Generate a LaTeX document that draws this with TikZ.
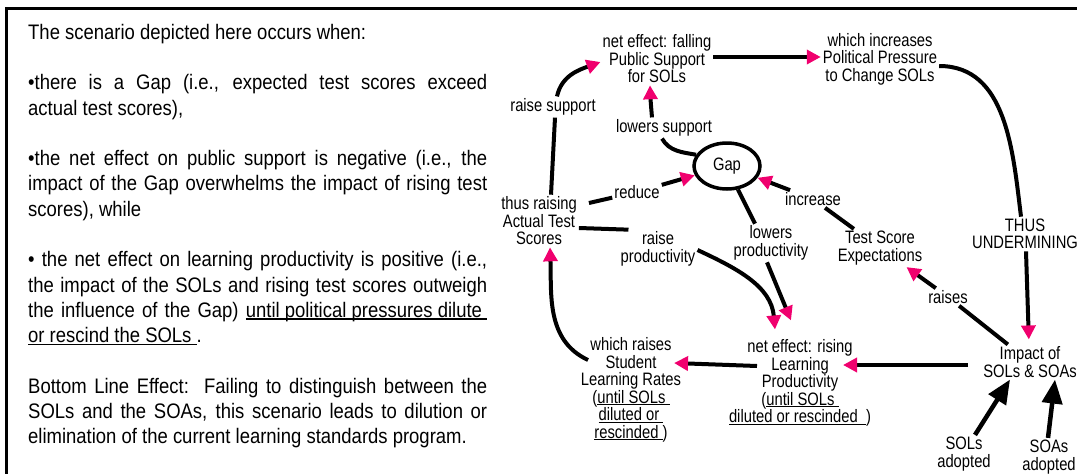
\documentclass[tikz,border=0pt]{standalone}
\usepackage{fontspec}
\setmainfont[FakeStretch=0.88]{Liberation Sans}
\newfontfamily\diagfont[FakeStretch=0.82]{Liberation Sans}
\usetikzlibrary{arrows.meta,shapes.geometric}

\definecolor{tippink}{RGB}{240,0,110}

% underline drawn close under the baseline
\newsavebox{\ulsave}
\newcommand{\ulbox}[1]{\sbox{\ulsave}{#1}\rlap{\rule[-0.11em]{\wd\ulsave}{0.06em}}\usebox{\ulsave}}
% one justified line and one ragged (last) line of the side text
\newcommand{\jline}[1]{\hbox to 459pt{#1}}
\newcommand{\eline}[1]{\hbox{#1}}
\newcommand{\parbreak}{\vskip 25.3pt}

\begin{document}
\begin{tikzpicture}[x=1pt, y=-1pt,
  var/.style={font=\diagfont\fontsize{18}{17.5}\selectfont, align=center, inner sep=2pt},
  lbl/.style={var},
  wire/.style={line width=4pt},
  arr/.style={wire, -{Triangle[length=14pt,width=14pt,color=tippink]}},
  bigarr/.style={line width=4.5pt, -{Triangle[length=24pt,width=20pt]}}]

\useasboundingbox (0,0) rectangle (1077,474);

% frame along the top and left
\draw[line width=3.5pt] (6.5,474) -- (6.5,8.5) -- (1077,8.5);

% explanatory text
\node[anchor=north west, inner sep=0pt, font=\fontsize{21}{25.3}\selectfont] (txt) at (28,23.7) {\vbox{%
\eline{The scenario depicted here occurs when:}
\parbreak
\jline{•there is a Gap (i.e., expected test scores exceed}
\eline{actual test scores),}
\parbreak
\jline{•the net effect on public support is negative (i.e., the}
\jline{impact of the Gap overwhelms the impact of rising test}
\eline{scores), while}
\parbreak
\jline{• the net effect on learning productivity is positive (i.e.,}
\jline{the impact of the SOLs and rising test scores outweigh}
\jline{the influence of the Gap) \ulbox{until political pressures dilute\ }}
\eline{\ulbox{or rescind the SOLs\ }.}
\parbreak
\jline{Bottom Line Effect:\ \ Failing to distinguish between the}
\jline{SOLs and the SOAs, this scenario leads to dilution or}
\eline{elimination of the current learning standards program.}}};

% variables
\node[var] (PS) at (657,59) {net effect: falling\\Public Support\\for SOLs};
\node[var] (PP) at (880,59) {which increases\\Political Pressure\\to Change SOLs};
\node[var, draw, ellipse, line width=3.5pt, minimum width=66pt, minimum height=46pt, inner sep=0pt] (Gap) at (727,166) {Gap};
\node[var] (AT) at (539,221) {thus raising\\Actual Test\\Scores};
\node[var] (TSE) at (880,248) {Test Score\\Expectations};
\node[var] (THUS) at (1025,234) {THUS\\UNDERMINING};
\node[var] (IMP) at (1030,362) {Impact of\\SOLs \& SOAs};
\node[var] (LP) at (800,383) {net effect: rising\\Learning\\Productivity\\(\ulbox{until SOLs\ }\\\ulbox{diluted or rescinded\ \ })};
\node[var] (SLR) at (631,390) {which raises\\Student\\Learning Rates\\(\ulbox{until SOLs\ }\\\ulbox{diluted or\ }\\\ulbox{rescinded\ })};
\node[var] (SOLa) at (964,454) {SOLs\\adopted};
\node[var] (SOAa) at (1049,457) {SOAs\\adopted};

% link labels
\node[lbl] (rsup) at (553,107) {raise support};
\node[lbl] (lsup) at (664,128) {lowers support};
\node[lbl] (red) at (637,192) {reduce};
\node[lbl] (inc) at (813,199) {increase};
\node[lbl] (rprod) at (658,249) {raise\\productivity};
\node[lbl] (lprod) at (771,243) {lowers\\productivity};
\node[lbl] (rais) at (948,297) {raises};

% links
\draw[wire] ([xshift=12pt]AT.north) -- ([xshift=2pt]rsup.south);
\draw[arr] ([xshift=4pt]rsup.north) to[out=78,in=200] ([yshift=-3pt]PS.west);
\draw[wire] (Gap.160) to[out=170,in=-60] ([xshift=-2pt]lsup.south);
\draw[arr] ([xshift=-12pt]lsup.north) to[out=95,in=-88] ([xshift=-7pt]PS.south);
\draw[arr] ([yshift=2pt]PS.east) -- ([yshift=2pt]PP.west);
\draw[wire] ([yshift=-7pt]PP.east) to[out=0,in=97] ([xshift=-4pt]THUS.north);
\draw[arr, shorten >=5pt] ([xshift=1pt]THUS.south) -- ([xshift=-1pt]IMP.north);
\draw[wire] (IMP) -- (rais);
\draw[arr] (rais) -- (TSE);
\draw[wire] (TSE) -- (inc);
\draw[arr] (inc) -- (Gap);
\draw[wire] ([shift={(10pt,18pt)}]AT.east) -- (red);
\draw[arr] (red) -- (Gap);
\draw[wire] (Gap.-65) -- ([xshift=-16pt]lprod.north);
\draw[arr] ([xshift=-4pt]lprod.south) -- ([shift={(-9pt,17pt)}]LP.north);
\draw[wire] ([yshift=-7pt]AT.east) -- ([xshift=10pt]rprod.north west);
\draw[arr] ([yshift=-1pt]rprod.east) to[out=-25,in=95] ([shift={(-25pt,8pt)}]LP.north);
\draw[arr] ([shift={(-43pt,17pt)}]LP.center) -- ([shift={(43pt,27pt)}]SLR.center);
\draw[arr] ([shift={(-62pt,-3pt)}]IMP.center) -- ([shift={(43pt,18pt)}]LP.center);
\draw[arr] ([shift={(-43pt,30pt)}]SLR.center) to[out=155,in=-88] ([xshift=11pt]AT.south);
\draw[bigarr] ([xshift=11pt]SOLa.north) -- ([xshift=-20pt]IMP.south);
\draw[bigarr] ([xshift=-1pt]SOAa.north) -- ([xshift=25pt]IMP.south);
\end{tikzpicture}
\end{document}
